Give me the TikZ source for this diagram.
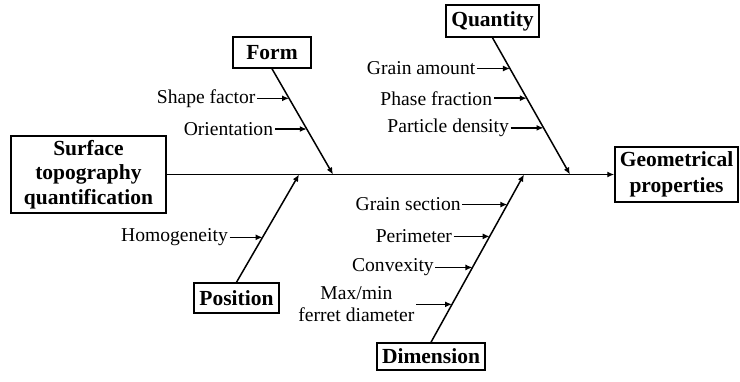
\documentclass[tikz,border=0pt]{standalone}
\usepackage{fontspec}
\setmainfont{Liberation Serif}
\usetikzlibrary{arrows.meta,calc}
\begin{document}
\begin{tikzpicture}[x=1pt,y=-1pt,
  box/.style={draw, line width=1.5pt, font=\bfseries\fontsize{21.5}{24.5}\selectfont, align=center, inner sep=0pt},
  lbl/.style={font=\fontsize{19.6}{22}\selectfont, inner sep=1.5pt, anchor=east, align=center},
  arr/.style={line width=1.5pt, -{Latex[length=7pt,width=6pt]}}]
\useasboundingbox[fill=white] (0,0) rectangle (740,381);
% boxes
\node[box, minimum width=155pt, minimum height=77pt] (src) at (88.5,174.5) {Surface\\topography\\quantification};
\node[box, minimum width=123pt, minimum height=55pt, font=\bfseries\fontsize{21.5}{25.5}\selectfont] (dst) at (676.5,174.5) {Geometrical\\properties};
\node[box, minimum width=78pt, minimum height=31pt] (form) at (272,52.5) {Form};
\node[box, minimum width=93pt, minimum height=32pt] (quantity) at (492.5,21) {Quantity};
\node[box, minimum width=85pt, minimum height=30pt] (position) at (236.5,298) {Position};
\node[box, minimum width=108pt, minimum height=27pt] (dimension) at (431,356.5) {Dimension};
% spine and bones
\coordinate (fe) at (333,174.5);
\coordinate (qe) at (570,174.5);
\coordinate (pe) at (299,174.5);
\coordinate (de) at (524,174.5);
\draw[arr] (src.east) -- (dst.west);
\draw[arr] (form.south) -- (fe);
\draw[arr] (quantity.south) -- (qe);
\draw[arr] (position.north) -- (pe);
\draw[arr] (dimension.north) -- (de);
% points on bones
\coordinate (f1) at ($(form.south)!0.280!(fe)$);
\coordinate (f2) at ($(form.south)!0.570!(fe)$);
\coordinate (q1) at ($(quantity.south)!0.225!(qe)$);
\coordinate (q2) at ($(quantity.south)!0.442!(qe)$);
\coordinate (q3) at ($(quantity.south)!0.659!(qe)$);
\coordinate (p1) at ($(position.north)!0.417!(pe)$);
\coordinate (d1) at ($(dimension.north)!0.821!(de)$);
\coordinate (d2) at ($(dimension.north)!0.631!(de)$);
\coordinate (d3) at ($(dimension.north)!0.446!(de)$);
\coordinate (d4) at ($(dimension.north)!0.226!(de)$);
% labels
\node[lbl] (sf) at ($(f1)+(-32,0)$) {Shape factor};
\node[lbl] (or) at ($(f2)+(-32,0)$) {Orientation};
\node[lbl] (ga) at ($(q1)+(-33,0)$) {Grain amount};
\node[lbl] (pf) at ($(q2)+(-33,0)$) {Phase fraction};
\node[lbl] (pd) at ($(q3)+(-33,0)$) {Particle density};
\node[lbl] (ho) at ($(p1)+(-33,0)$) {Homogeneity};
\node[lbl] (gs) at ($(d1)+(-45,0)$) {Grain section};
\node[lbl] (pm) at ($(d2)+(-36,0)$) {Perimeter};
\node[lbl] (cv) at ($(d3)+(-37,0)$) {Convexity};
\node[lbl] (mm) at ($(d4)+(-36,0)$) {Max/min\\ferret diameter};
% label arrows
\draw[arr] (sf.east) -- (f1);
\draw[arr] (or.east) -- (f2);
\draw[arr] (ga.east) -- (q1);
\draw[arr] (pf.east) -- (q2);
\draw[arr] (pd.east) -- (q3);
\draw[arr] (ho.east) -- (p1);
\draw[arr] (gs.east) -- (d1);
\draw[arr] (pm.east) -- (d2);
\draw[arr] (cv.east) -- (d3);
\draw[arr] (mm.east) -- (d4);
\end{tikzpicture}
\end{document}
